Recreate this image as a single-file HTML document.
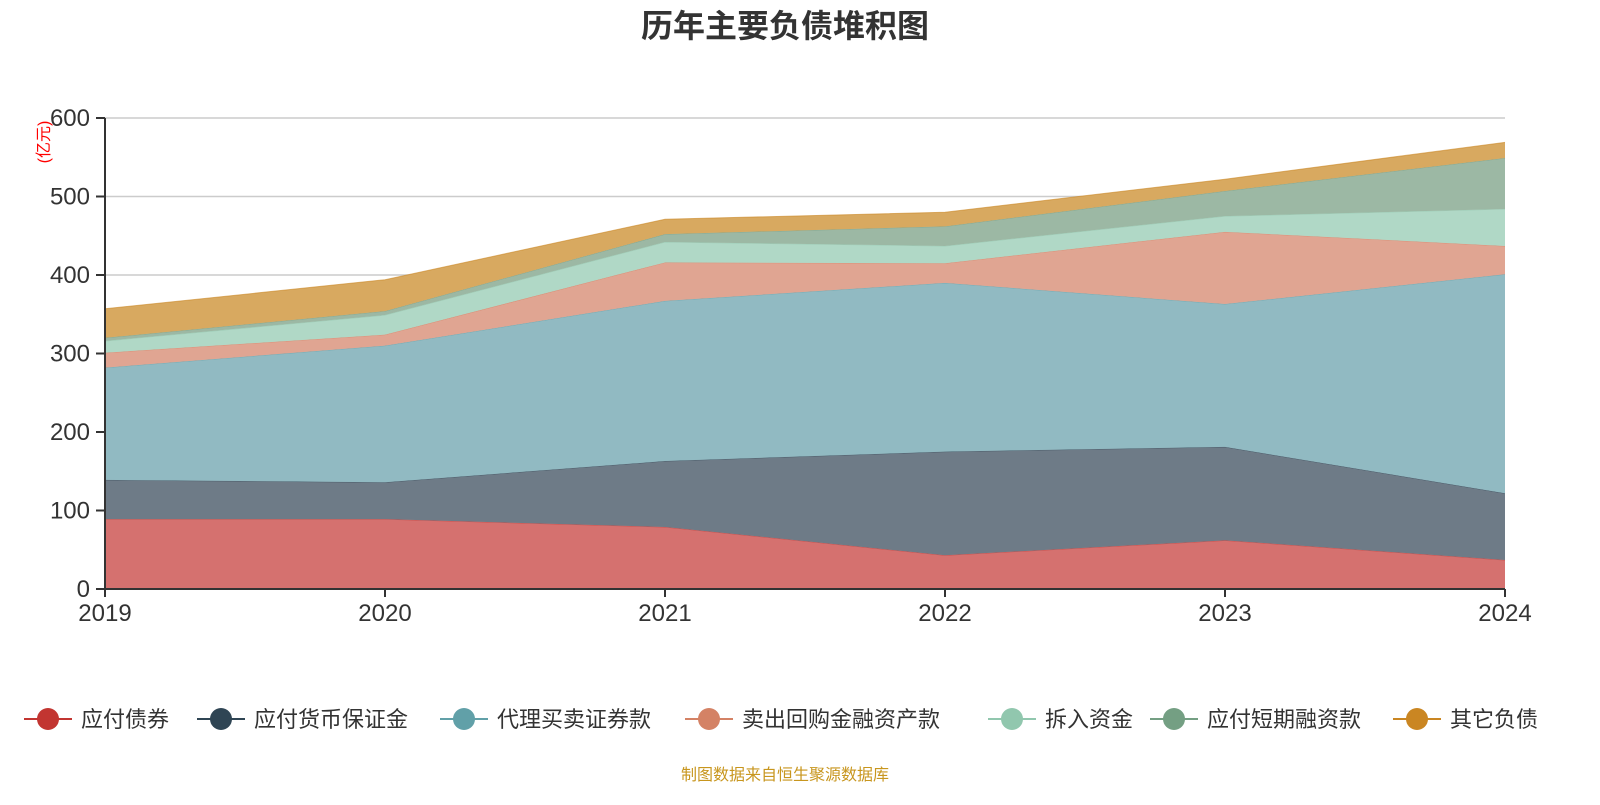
<!DOCTYPE html>
<html><head><meta charset="utf-8"><style>
body{margin:0;width:1600px;height:800px;background:#fff;font-family:"Liberation Sans","Noto Sans CJK SC",sans-serif;overflow:hidden}
</style></head><body>
<svg id="c" width="1600" height="800">
<text x="785" y="37" text-anchor="middle" font-size="32" font-weight="bold" fill="#333">历年主要负债堆积图</text>
<text transform="translate(49,142) rotate(-90)" text-anchor="middle" font-size="16" fill="#f00">(亿元)</text>
<text x="785" y="780" text-anchor="middle" font-size="16" fill="#c8961e">制图数据来自恒生聚源数据库</text>
<g id="grid"></g><g id="areas"></g><g id="axes"></g><g id="legend"></g>
</svg>
<script>
const years=["2019","2020","2021","2022","2023","2024"];
const names=["应付债券","应付货币保证金","代理买卖证券款","卖出回购金融资产款","拆入资金","应付短期融资款","其它负债"];
const s1=[89,89,79,43,62,37];
const s2=[50,47,84,132,119,85];
const s3=[143,174,204,215,182,279];
const s4=[19,14,49,25,92,36];
const s5=[15,25,26,22,20,47];
const s6=[4,5,10,25,32,65];
const s7=[37,40,19,18,15,20];
const yTicks=[0,100,200,300,400,500,600];
const series=[s1,s2,s3,s4,s5,s6,s7];
const fills=["#d5716f","#6e7b87","#91bac2","#e0a592","#b0d8c6","#9cb8a4","#d8a960"];
const lc=["#c23531","#2f4554","#61a0a8","#d48265","#91c7ae","#749f83","#ca8622"];
const NS="http://www.w3.org/2000/svg";
const x=i=>105+i*280, y=v=>589-v*0.785;
function mk(t,a,p){const e=document.createElementNS(NS,t);for(const k in a)e.setAttribute(k,a[k]);p.appendChild(e);return e;}
const grid=document.getElementById('grid'),axes=document.getElementById('axes'),areas=document.getElementById('areas'),leg=document.getElementById('legend');
yTicks.forEach(t=>{
 if(t>0){const g=mk('line',{x1:105,x2:1505,y1:y(t),y2:y(t),stroke:'#ccc','stroke-width':1.5},grid);
 
 }
 const l=mk('text',{x:90,y:y(t)+8,'text-anchor':'end','font-size':24,fill:'#333'},axes);l.textContent=t;
 
 
 mk('line',{x1:96,x2:105,y1:y(t),y2:y(t),stroke:'#333','stroke-width':2},axes);
});
let base=years.map(()=>0);
series.forEach((s,k)=>{
 const top=base.map((b,i)=>b+s[i]);
 let d='M'+top.map((v,i)=>x(i)+','+y(v)).join('L')+'L'+base.map((v,i)=>x(i)+','+y(v)).reverse().join('L')+'Z';
 const p=mk('path',{d:d,fill:fills[k]},areas);
 
 
 mk('polyline',{points:top.map((v,i)=>x(i)+','+y(v)).join(' '),fill:'none',stroke:lc[k],'stroke-width':1,'stroke-opacity':0.6},areas);
 base=top;
});
mk('line',{x1:105,x2:105,y1:118,y2:589,stroke:'#333','stroke-width':2},axes);
mk('line',{x1:105,x2:1505,y1:589,y2:589,stroke:'#333','stroke-width':2},axes);
years.forEach((yr,i)=>{
 mk('line',{x1:x(i),x2:x(i),y1:589,y2:597,stroke:'#333','stroke-width':2},axes);
 const t=mk('text',{x:x(i),y:621,'text-anchor':'middle','font-size':24,fill:'#333'},axes);t.textContent=yr;
 
 
});
const lx=[24,197,440,685,988,1150,1393];
names.forEach((n,k)=>{
 const g=mk('g',{},leg);
 
 
 mk('line',{x1:lx[k],x2:lx[k]+48,y1:719,y2:719,stroke:lc[k],'stroke-width':2},g);
 mk('circle',{cx:lx[k]+24,cy:719,r:11,fill:lc[k]},g);
 const t=mk('text',{x:lx[k]+57,y:727,'font-size':22,fill:'#333'},g);t.textContent=n;
});
</script>
</body></html>
